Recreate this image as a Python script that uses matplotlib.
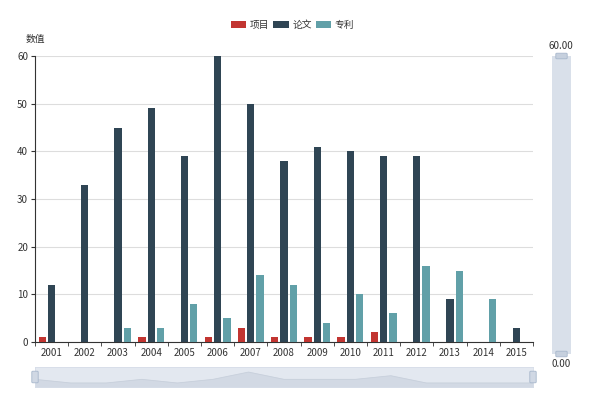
import numpy as np
import matplotlib.pyplot as plt
from matplotlib.patches import FancyBboxPatch, Rectangle

plt.rcParams['font.family'] = ['Noto Sans CJK SC', 'DejaVu Sans']

# data
years = ['2001', '2002', '2003', '2004', '2005', '2006', '2007', '2008',
         '2009', '2010', '2011', '2012', '2013', '2014', '2015']
projects = [1, 0, 0, 1, 0, 1, 3, 1, 1, 1, 2, 0, 0, 0, 0]
papers = [12, 33, 45, 49, 39, 60, 50, 38, 41, 40, 39, 39, 9, 0, 3]
patents = [0, 0, 3, 3, 8, 5, 14, 12, 4, 10, 6, 16, 15, 9, 0]
series_names = ['项目', '论文', '专利']
colors = ['#c23531', '#2f4554', '#61a0a8']

W, H = 595, 399
fig = plt.figure(figsize=(W / 100, H / 100), dpi=100)

def box(x0, y0, x1, y1):
    # pixel box (top-left origin) -> figure fraction
    return [x0 / W, 1 - y1 / H, (x1 - x0) / W, (y1 - y0) / H]

ax = fig.add_axes(box(35, 56, 533, 342))
x = np.arange(len(years))
bw = 0.22
gap = 0.06
for i, (vals, c) in enumerate(zip([projects, papers, patents], colors)):
    ax.bar(x + (i - 1) * (bw + gap), vals, width=bw, color=c, label=series_names[i], zorder=3)

ax.set_xlim(-0.5, len(years) - 0.5)
ax.set_ylim(0, 60)
ax.set_yticks(range(0, 61, 10))
ax.set_xticks(x)
ax.set_xticklabels(years)
ax.set_xticks(np.arange(-0.5, len(years), 1), minor=True)
ax.tick_params(axis='x', which='major', length=0, labelsize=7, colors='#333333', pad=4)
ax.tick_params(axis='x', which='minor', length=3, color='#333333')
ax.tick_params(axis='y', length=3, labelsize=7, colors='#333333', pad=2)
ax.grid(axis='y', color='#dddddd', linewidth=0.8, zorder=0)
for s in ['top', 'right']:
    ax.spines[s].set_visible(False)
ax.spines['left'].set_color('#333333')
ax.spines['bottom'].set_color('#333333')
ax.text(-0.5, 62.5, '数值', fontsize=7, color='#333333', ha='center', va='bottom')

# legend
leg = ax.legend(loc='center', bbox_to_anchor=(0.517, 1.108), ncol=3, frameon=False,
                fontsize=7, handlelength=1.6, handleheight=0.8, handletextpad=0.35,
                columnspacing=0.4, borderaxespad=0)
for t in leg.get_texts():
    t.set_color('#333333')

# bottom data zoom slider
sax = fig.add_axes(box(35, 367, 533, 387))
sax.set_xlim(0, len(years) - 1)
sax.set_ylim(-1.1, 4.4)
sax.set_facecolor('#e3e8f0')
sax.fill_between(x, projects, -1.1, color='#d2d9e4', zorder=1)
sax.plot(x, projects, color='#c8d0dc', linewidth=0.6, zorder=2)
sax.set_xticks([])
sax.set_yticks([])
for s in sax.spines.values():
    s.set_color('#d6dde8')
    s.set_linewidth(0.6)
for hx in [35, 533]:
    fig.patches.append(FancyBboxPatch(((hx - 2) / W, 1 - 382 / H), 4 / W, 10 / H,
                                      boxstyle='round,pad=0.002', transform=fig.transFigure,
                                      facecolor='#d0d8e4', edgecolor='#a7b7cc', linewidth=0.6))

# right visual map
fig.patches.append(Rectangle((552 / W, 1 - 354 / H), 19 / W, 298 / H,
                             transform=fig.transFigure, facecolor='#d9e0ea', edgecolor='none'))
for hy in [56, 354]:
    fig.patches.append(FancyBboxPatch((557 / W, 1 - (hy + 2) / H), 9 / W, 4 / H,
                                      boxstyle='round,pad=0.002', transform=fig.transFigure,
                                      facecolor='#c6d0de', edgecolor='#a7b7cc', linewidth=0.6))
fig.text(561 / W, 1 - 46 / H, '60.00', fontsize=7, color='#333333', ha='center', va='center')
fig.text(561 / W, 1 - 364 / H, '0.00', fontsize=7, color='#333333', ha='center', va='center')

fig.savefig('out.png', dpi=100)
